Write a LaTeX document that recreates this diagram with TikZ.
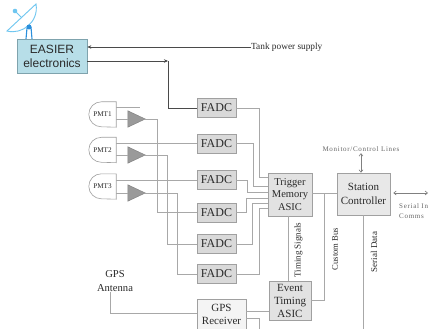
\documentclass[tikz,border=0pt]{standalone}
\usepackage{fontspec}
\setmainfont{Liberation Serif}
\newfontfamily\arialfont{Liberation Sans}
\newfontfamily\spacedfont[LetterSpace=10]{Liberation Serif}
\usetikzlibrary{arrows.meta,calc}
\definecolor{wirec}{HTML}{A8A8A8}
\definecolor{bordc}{HTML}{A0A0A0}
\definecolor{darkc}{HTML}{4A4A4A}
\definecolor{txtc}{HTML}{2A2A2A}
\definecolor{fadcc}{HTML}{D9D9D9}
\definecolor{asicc}{HTML}{E2E2E2}
\definecolor{scc}{HTML}{E8E8E8}
\definecolor{gpsc}{HTML}{F4F4F4}
\definecolor{easierc}{HTML}{B7DEE8}
\definecolor{easierb}{HTML}{7FA3AD}
\definecolor{ampc}{HTML}{9A9A9A}
\definecolor{dishl}{HTML}{6EC6F0}
\definecolor{dishd}{HTML}{2A8FDC}
\definecolor{greytxt}{HTML}{666666}
\begin{document}
\begin{tikzpicture}[x=1pt,y=-1pt,
  wire/.style={draw=wirec,line width=0.7pt},
  dark/.style={draw=darkc,line width=0.9pt},
  tipr/.style={-{Stealth[length=4pt,width=3.5pt]}},
  tipb/.style={{Straight Barb[length=2.5pt,width=4pt]}-{Straight Barb[length=2.5pt,width=4pt]}},
  fadc/.style={draw=bordc,fill=fadcc,line width=0.6pt,minimum width=39pt,minimum height=19pt,inner sep=0pt,text=txtc,font=\fontsize{12}{12}\selectfont},
  asic/.style={draw=bordc,line width=0.6pt,align=center,inner sep=0pt,text=txtc,font=\fontsize{10.5}{12.8}\selectfont},
  pmtnode/.style={minimum width=27pt,minimum height=25pt,inner sep=0pt,text=txtc,font=\fontsize{7.2}{8}\selectfont},
  pmtshape/.style={draw=bordc,fill=white,line width=0.6pt},
  ampnode/.style={minimum width=17pt,minimum height=16pt,inner sep=0pt},
  ampshape/.style={draw=ampc!85!black,fill=ampc,line width=0.5pt},
  vlabel/.style={rotate=90,inner sep=0pt,text=txtc,font=\fontsize{9}{9}\selectfont},
  small/.style={inner sep=0pt,text=greytxt,font=\spacedfont\fontsize{7}{10}\selectfont,align=left}
]
\useasboundingbox (0,0) rectangle (429,329);
\fill[white] (0,0) rectangle (429,329);

% satellite dish
\draw[dishl,line width=0.9pt,fill=white] (7,31) .. controls (22,35) and (39,22) .. (36,4) -- cycle;
\draw[dishl,line width=0.8pt] (22,18) -- (15,11);
\fill[dishl] (15,11) circle (2.3);
\draw[dishd,line width=1.1pt] (27,28) -- (26,39) (31,27) -- (32,39);
\fill[dishd] (29,27) circle (2.5);

% EASIER box
\node[draw=easierb,fill=easierc,line width=0.6pt,minimum width=70pt,minimum height=34pt,inner sep=0pt,align=center,text=txtc,font=\arialfont\fontsize{12}{14}\selectfont] (easier) at (52,56) {EASIER\\electronics};
\node[anchor=west,inner sep=0pt,text=txtc,font=\fontsize{9.3}{10}\selectfont] (tank) at (251,47) {Tank power supply};

% FADCs
\node[fadc] (f1) at (216.5,108) {FADC};
\node[fadc] (f2) at (216.5,143.5) {FADC};
\node[fadc] (f3) at (216.5,180) {FADC};
\node[fadc] (f4) at (216.5,212.5) {FADC};
\node[fadc] (f5) at (216.5,244) {FADC};
\node[fadc] (f6) at (216.5,274) {FADC};

% ASICs and controller
\node[asic,fill=asicc,minimum width=44pt,minimum height=43pt] (tma) at (290,194.5) {Trigger\\Memory\\ASIC};
\node[asic,fill=scc,minimum width=53pt,minimum height=42pt,font=\fontsize{11}{13.3}\selectfont] (sc) at (363.5,194) {Station\\Controller};
\node[asic,fill=asicc,minimum width=42pt,minimum height=39pt,font=\fontsize{11}{13}\selectfont] (et) at (290,300.5) {Event\\Timing\\ASIC};
\node[asic,fill=gpsc,minimum width=49pt,minimum height=30pt,font=\fontsize{11}{13}\selectfont] (gps) at (221.5,314.5) {GPS\\Receiver};
\node[inner sep=0pt,align=center,text=txtc,font=\fontsize{10.6}{14}\selectfont] (ant) at (115,281) {GPS\\Antenna};

% labels
\node[small] (mon) at (361,149) {Monitor/Control Lines};
\node[small,anchor=north west] (serlab) at (399,203) {Serial In\\Comms};
\node[vlabel] (tslab) at (298.5,250) {Timing Signals};
\node[vlabel,font=\fontsize{8.6}{9}\selectfont] (cblab) at (335,249) {Custom Bus};
\node[vlabel] (sdlab) at (374,252) {Serial Data};

% PMTs
\foreach \i/\y in {1/114.5,2/150,3/186.5}{
  \node[pmtnode] (pmt\i) at (102.5,\y) {};
  \draw[pmtshape] (pmt\i.north east) -- ($(pmt\i.north west)+(12.5,0)$) arc[start angle=270,end angle=90,radius=12.5] -- (pmt\i.south east) -- cycle;
  \node[pmtnode] at (pmt\i) {PMT\i};
}

% amplifiers
\node[ampnode] (amp1) at (136.5,119) {};
\node[ampnode] (amp2) at (136.5,155) {};
\node[ampnode] (amp3) at (136.5,193) {};
\foreach \a in {amp1,amp2,amp3}{
  \draw[ampshape] (\a.north west) -- (\a.east) -- (\a.south west) -- cycle;
}

% coordinates for free ends
\coordinate (stub) at (140,107);
\coordinate (bend) at (168,61);
\coordinate (sdend) at (363,330);
\coordinate (gpsend) at (259,330);
\coordinate (serend) at (428,193);

% EASIER connections
\draw[dark,tipr] (tank.west) -- (easier.east |- tank.west);
\draw[dark,tipr] (easier.east |- bend) -- (bend);
\draw[dark] (bend) |- (f1.west);

% PMT wiring
\draw[wire] (pmt1.east |- stub) -- (stub);
\draw[wire] (pmt2.east |- f2.west) -- (f2.west);
\draw[wire] (pmt3.east |- f3.west) -- (f3.west);
\draw[wire] (pmt1.east |- amp1.west) -- (amp1.west);
\draw[wire] (pmt2.east |- amp2.west) -- (amp2.west);
\draw[wire] (pmt3.east |- amp3.west) -- (amp3.west);
\draw[wire] (amp1.east) -- (amp1.east -| 157,0) |- (f4.west);
\draw[wire] (amp2.east) -- (amp2.east -| 167,0) |- (f5.west);
\draw[wire] (amp3.east) -- (amp3.east -| 177,0) |- (f6.west);

% FADC to TMA
\draw[wire] (f1.east) -- (f1.east -| 259,0) |- (tma.west |- 0,177);
\draw[wire] (f2.east) -- (f2.east -| 253,0) |- (tma.west |- 0,186);
\draw[wire] (f3.east) -- (f3.east -| 247.5,0) |- (tma.west |- 0,192.5);
\draw[wire] (f4.east) -- (f4.east -| 246,0) |- (tma.west |- 0,198);
\draw[wire] (f5.east) -- (f5.east -| 252,0) |- (tma.west |- 0,203);
\draw[wire] (f6.east) -- (f6.east -| 259,0) |- (tma.west |- 0,208);

% buses
\draw[wire] (tma.east |- 0,193) -- (sc.west |- 0,193);
\draw[wire] (324,193) |- (et.east);
\draw[wire] (tma.south -| 288,0) -- (et.north -| 288,0);
\draw[wire] (sc.south -| sdend) -- (sdend);
\draw[wire] (gps.east |- 0,311) -- (et.west |- 0,311);
\draw[wire] (gps.east |- 0,318) -| (gpsend);
\draw[wire] ([xshift=-5pt]ant.south) |- (gps.west |- 0,313);

% monitor / serial arrows
\draw[darkc!70,line width=0.6pt,tipb] ([yshift=-1.5pt]mon.south) -- (sc.north -| mon.south);
\draw[darkc!70,line width=0.6pt,tipb] ([xshift=3pt]sc.east |- serend) -- (serend);
\end{tikzpicture}
\end{document}
